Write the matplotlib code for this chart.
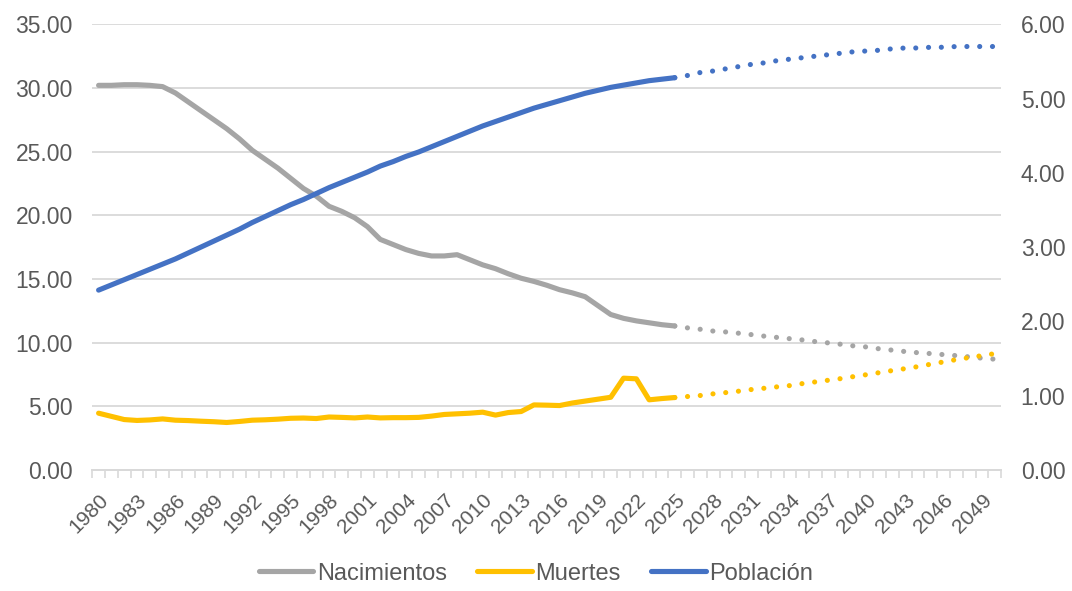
import matplotlib.pyplot as plt
from matplotlib.ticker import FixedLocator, FormatStrFormatter

# datos historicos 1980-2025
years_hist = list(range(1980, 2026))
nacimientos = [30.2, 30.2, 30.25, 30.25, 30.2, 30.1, 29.6, 28.9, 28.2, 27.5,
               26.8, 26.0, 25.1, 24.4, 23.7, 22.9, 22.1, 21.5, 20.7, 20.3,
               19.8, 19.1, 18.1, 17.7, 17.3, 17.0, 16.8, 16.8, 16.9, 16.5,
               16.1, 15.8, 15.4, 15.05, 14.8, 14.5, 14.15, 13.9, 13.6, 12.9,
               12.2, 11.9, 11.7, 11.55, 11.4, 11.3]
muertes = [4.45, 4.2, 3.95, 3.88, 3.92, 4.0, 3.9, 3.87, 3.82, 3.78,
           3.72, 3.8, 3.9, 3.93, 3.98, 4.05, 4.07, 4.03, 4.15, 4.12,
           4.08, 4.15, 4.08, 4.1, 4.1, 4.12, 4.22, 4.35, 4.4, 4.45,
           4.53, 4.3, 4.5, 4.58, 5.1, 5.08, 5.05, 5.25, 5.4, 5.55,
           5.7, 7.2, 7.15, 5.5, 5.6, 5.68]
poblacion = [2.42, 2.49, 2.56, 2.63, 2.70, 2.77, 2.84, 2.92, 3.00, 3.08,
             3.16, 3.24, 3.33, 3.41, 3.49, 3.57, 3.64, 3.72, 3.80, 3.87,
             3.94, 4.01, 4.09, 4.15, 4.22, 4.28, 4.35, 4.42, 4.49, 4.56,
             4.63, 4.69, 4.75, 4.81, 4.87, 4.92, 4.97, 5.02, 5.07, 5.11,
             5.15, 5.18, 5.21, 5.24, 5.26, 5.28]

# proyecciones 2025-2050
years_proj = list(range(2025, 2051))
nacimientos_proj = [11.3, 11.15, 11.04, 10.9, 10.83, 10.73, 10.62, 10.5, 10.4, 10.3,
                    10.2, 10.07, 9.97, 9.86, 9.73, 9.65, 9.5, 9.4, 9.29, 9.2,
                    9.13, 9.05, 8.97, 8.87, 8.77, 8.69]
muertes_proj = [5.68, 5.76, 5.84, 5.97, 6.07, 6.18, 6.31, 6.41, 6.52, 6.62,
                6.78, 6.91, 7.04, 7.17, 7.33, 7.48, 7.64, 7.8, 7.95, 8.11,
                8.3, 8.48, 8.66, 8.82, 8.97, 9.13]
poblacion_proj = [5.28, 5.31, 5.35, 5.37, 5.40, 5.43, 5.46, 5.48, 5.51, 5.53,
                  5.55, 5.57, 5.59, 5.61, 5.63, 5.64, 5.65, 5.67, 5.68, 5.68,
                  5.69, 5.69, 5.70, 5.70, 5.70, 5.70]

labels = ['Nacimientos', 'Muertes', 'Población']
colors = ['#A5A5A5', '#FFC000', '#4472C4']

plt.rcParams['font.family'] = ['Liberation Sans', 'DejaVu Sans']
txt = '#595959'
lw = 3.7
dot = (0, (0.01, 2.48))

fig = plt.figure(figsize=(10.72, 5.91), dpi=100)
ax = fig.add_axes([0.086, 0.205, 0.848, 0.754])
ax2 = ax.twinx()

ax.plot(years_hist, nacimientos, color=colors[0], lw=lw, label=labels[0], solid_capstyle='round')
ax.plot(years_hist, muertes, color=colors[1], lw=lw, label=labels[1], solid_capstyle='round')
ax.plot(years_proj, nacimientos_proj, color=colors[0], lw=lw, ls=dot, dash_capstyle='round')
ax.plot(years_proj, muertes_proj, color=colors[1], lw=lw, ls=dot, dash_capstyle='round')
ax2.plot(years_hist, poblacion, color=colors[2], lw=lw, label=labels[2], solid_capstyle='round')
ax2.plot(years_proj, poblacion_proj, color=colors[2], lw=lw, ls=dot, dash_capstyle='round')

ax.set_xlim(1979.5, 2050.5)
ax.set_ylim(0, 35)
ax2.set_ylim(0, 6)
ax.set_yticks(range(0, 36, 5))
ax2.set_yticks(range(0, 7))
ax.yaxis.set_major_formatter(FormatStrFormatter('%.2f'))
ax2.yaxis.set_major_formatter(FormatStrFormatter('%.2f'))
ax.grid(axis='y', color='#D9D9D9', lw=1.3)
ax.set_axisbelow(True)

# categorias: etiquetas cada 3 anos, marcas entre categorias
ax.set_xticks(list(range(1980, 2051, 3)))
ax.set_xticklabels([str(y) for y in range(1980, 2051, 3)], rotation=45,
                   ha='right', va='top', rotation_mode='anchor')
ax.xaxis.set_minor_locator(FixedLocator([y + 0.5 for y in range(1979, 2051)]))
ax.tick_params(axis='x', which='major', length=0, pad=15, labelsize=15, labelcolor=txt)
ax.tick_params(axis='x', which='minor', length=6, color='#D9D9D9', width=1.2)
ax.tick_params(axis='y', length=0, labelsize=16.5, labelcolor=txt, pad=14)
ax2.tick_params(axis='y', length=0, labelsize=16.5, labelcolor=txt, pad=14)

for a in (ax, ax2):
    for s in ['top', 'left', 'right']:
        a.spines[s].set_visible(False)
    a.spines['bottom'].set_color('#D9D9D9')
    a.spines['bottom'].set_linewidth(1.3)

h1, l1 = ax.get_legend_handles_labels()
h2, l2 = ax2.get_legend_handles_labels()
fig.legend(h1 + h2, l1 + l2, loc='lower center', bbox_to_anchor=(0.5, -0.025),
           ncol=3, frameon=False, fontsize=17, labelcolor=txt,
           handlelength=2.3, handletextpad=0.15, columnspacing=1.3)

fig.savefig('out.png', dpi=100)
